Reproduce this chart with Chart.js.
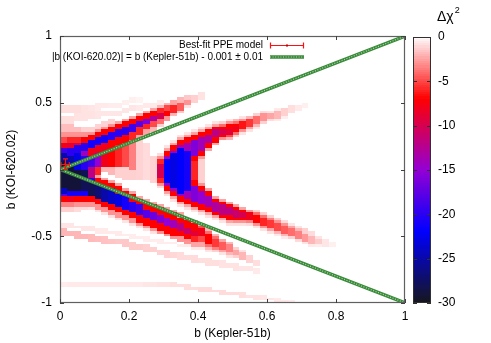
<!DOCTYPE html>
<html><head><meta charset="utf-8">
<script src="https://cdn.jsdelivr.net/npm/chart.js@4.4.0/dist/chart.umd.min.js"></script>
<style>
html,body{margin:0;padding:0;background:#fff;}
#wrap{position:relative;width:491px;height:343px;}
canvas{position:absolute;left:0;top:0;}
</style></head><body>
<div id="wrap"><canvas id="main" width="491" height="343"></canvas><canvas id="cbar" width="491" height="343"></canvas></div>
<script>
// ---- tick labels ----
const X_TICKS = [0, 0.2, 0.4, 0.6, 0.8, 1];
const X_TICK_LABELS = ['0', '0.2', '0.4', '0.6', '0.8', '1'];
const Y_TICKS = [-1, -0.5, 0, 0.5, 1];
const Y_TICK_LABELS = ['-1', '-0.5', '0', '0.5', '1'];
const CB_TICKS = [0, -5, -10, -15, -20, -25, -30];
const CB_TICK_LABELS = ['0', '-5', '-10', '-15', '-20', '-25', '-30'];

// ---- Δχ² map: columns of width 0.02 in b(Kepler-51b); bands [top, bottom] in units of 0.01 of b(KOI-620.02), value Δχ² ----
const CELL_W = 0.02, CELL_H = 0.02;
const COLUMN_X = [0,0.02,0.04,0.06,0.08,0.10,0.12,0.14,0.16,0.18,0.20,0.22,0.24,0.26,0.28,0.30,0.32,0.34,0.36,0.38,
                  0.40,0.42,0.44,0.46,0.48,0.50,0.52,0.54,0.56,0.58,0.60,0.62,0.64,0.66,0.68,0.70,0.72,0.74,0.76,0.78];
const COLUMN_BANDS = [
 [[48,42,-0.9],[40,34,-0.9],[34,28,-1.8],[28,24,-3],[24,20,-5],[20,16,-8],[16,12,-19],[12,6,-25],[6,-14,-29],[-14,-18,-24],[-18,-20,-18],[-20,-24,-7],[-24,-28,-3.5],[-28,-32,-1.3],[-40,-44,-0.7],[-44,-50,-2],[-84,-88,-0.5]],
 [[48,42,-0.9],[40,34,-0.9],[34,28,-1.8],[28,24,-3],[24,20,-6],[20,16,-9],[16,10,-20],[10,2,-25],[2,-16,-29],[-16,-20,-21],[-20,-24,-8],[-24,-28,-3.5],[-28,-32,-1.3],[-40,-44,-0.7],[-46,-50,-2],[-84,-88,-0.6]],
 [[48,42,-0.9],[42,36,-0.8],[32,28,-1.8],[28,24,-3],[24,20,-6],[20,18,-9],[18,12,-20],[12,0,-23],[0,-16,-29],[-16,-20,-21],[-20,-24,-7],[-24,-28,-3],[-28,-32,-1],[-42,-44,-0.7],[-46,-52,-2],[-84,-88,-0.6]],
 [[48,42,-0.8],[42,36,-0.8],[32,28,-1.3],[28,24,-3],[24,20,-7],[20,14,-20],[14,10,-14],[10,0,-20],[0,-16,-28],[-16,-20,-21],[-20,-24,-7],[-24,-28,-3],[-28,-30,-1],[-42,-46,-0.7],[-48,-52,-2],[-84,-88,-0.6]],
 [[48,44,-0.7],[44,38,-0.8],[32,28,-1.3],[28,26,-3],[26,22,-7],[22,16,-21],[16,10,-8],[10,2,-19],[2,-6,-12],[-6,-8,-20],[-8,-20,-28],[-20,-24,-7],[-24,-28,-3],[-28,-30,-0.8],[-42,-46,-0.7],[-48,-54,-1.9],[-84,-88,-0.6]],
 [[50,44,-0.6],[44,38,-0.7],[34,30,-1.2],[30,28,-3],[28,24,-7],[24,18,-21],[18,12,-8],[12,2,-15],[2,-4,-6],[-4,-6,-2.5],[-6,-10,-7],[-10,-22,-27],[-22,-26,-7],[-26,-30,-3],[-30,-32,-0.8],[-44,-48,-0.6],[-50,-54,-1.8],[-84,-88,-0.6]],
 [[50,46,-0.6],[44,40,-0.7],[36,32,-1.2],[32,30,-3],[30,26,-7],[26,20,-21],[20,14,-8],[14,2,-8],[2,-2,-2],[-6,-8,-2.5],[-8,-12,-7],[-12,-24,-25],[-24,-28,-7],[-28,-32,-3],[-32,-34,-0.8],[-44,-48,-0.6],[-50,-56,-1.7],[-84,-88,-0.6]],
 [[50,46,-0.5],[44,40,-0.7],[38,34,-1.2],[34,32,-3],[32,28,-7],[28,22,-20],[22,16,-7],[16,2,-7],[2,-4,-2],[-8,-10,-2.5],[-10,-14,-7],[-14,-26,-24],[-26,-30,-7],[-30,-34,-3],[-34,-36,-0.8],[-46,-48,-0.6],[-52,-56,-1.6],[-84,-88,-0.6]],
 [[50,46,-0.5],[44,40,-0.7],[36,34,-2.5],[34,30,-7],[30,24,-20],[24,18,-7],[18,2,-6],[2,-6,-1.3],[-10,-12,-2.5],[-12,-18,-7],[-18,-28,-23],[-28,-32,-7],[-32,-36,-3],[-36,-38,-0.8],[-46,-50,-0.6],[-52,-56,-1.5],[-84,-88,-0.6]],
 [[52,48,-0.4],[46,42,-0.7],[38,36,-2.5],[36,32,-7],[32,26,-20],[26,20,-7],[20,2,-5],[2,-8,-1.3],[-14,-16,-2.5],[-16,-20,-7],[-20,-30,-21],[-30,-34,-7],[-34,-38,-3],[-38,-40,-0.8],[-48,-50,-0.5],[-52,-58,-1.5],[-84,-88,-0.6]],
 [[54,50,-0.4],[48,44,-0.7],[40,38,-2.5],[38,34,-7],[34,28,-19],[28,22,-6],[22,0,-3.5],[0,-8,-1.3],[-16,-18,-2.5],[-18,-24,-7],[-24,-32,-20],[-32,-36,-7],[-36,-40,-3],[-40,-42,-0.8],[-48,-52,-0.5],[-54,-60,-1.4],[-84,-88,-0.6]],
 [[54,50,-0.3],[48,44,-0.6],[42,40,-2.5],[40,36,-7],[36,32,-18],[32,26,-6],[26,22,-2.5],[22,-8,-1.2],[-20,-22,-2.5],[-22,-26,-7],[-26,-34,-19],[-34,-40,-7],[-40,-42,-3],[-42,-44,-0.8],[-50,-52,-0.5],[-56,-60,-1.4],[-84,-88,-0.6]],
 [[50,46,-0.6],[44,42,-2.5],[42,38,-7],[38,34,-16],[34,30,-6],[30,26,-2.5],[20,-8,-1],[-22,-24,-2.5],[-24,-30,-7],[-30,-36,-18],[-36,-42,-7],[-42,-44,-3],[-44,-46,-0.8],[-50,-54,-0.5],[-56,-62,-1.3],[-84,-88,-0.7]],
 [[50,46,-0.6],[46,44,-2.5],[44,40,-7],[40,36,-13],[36,32,-5],[32,28,-2],[10,-10,-1.2],[-24,-26,-2.5],[-26,-32,-7],[-32,-38,-17],[-38,-44,-7],[-44,-46,-3],[-46,-48,-0.8],[-52,-54,-0.5],[-58,-62,-1.3],[-84,-88,-0.7]],
 [[52,48,-0.5],[48,46,-2],[46,42,-6],[42,38,-10],[38,34,-4],[34,32,-1.3],[12,10,-1],[10,8,-3],[8,4,-6],[4,-6,-10],[-6,-10,-6],[-10,-12,-3],[-12,-14,-1],[-26,-28,-2.5],[-28,-34,-7],[-34,-40,-16],[-40,-46,-7],[-46,-48,-3],[-52,-56,-0.5],[-60,-64,-1.2],[-84,-88,-0.8]],
 [[50,48,-2],[48,44,-5],[44,40,-7],[40,36,-3],[18,16,-0.8],[16,14,-2.5],[14,10,-7],[10,8,-14],[8,-10,-22],[-10,-12,-14],[-12,-16,-7],[-16,-18,-2.5],[-18,-20,-0.8],[-28,-30,-2.5],[-30,-36,-7],[-36,-42,-15],[-42,-48,-7],[-48,-50,-3],[-54,-56,-0.5],[-60,-66,-1.2],[-84,-88,-0.8]],
 [[52,48,-2.5],[48,42,-6],[42,40,-2],[22,20,-0.8],[20,18,-2.5],[18,14,-7],[14,12,-15],[12,-14,-23],[-14,-16,-15],[-16,-20,-7],[-20,-22,-2.5],[-22,-24,-0.8],[-30,-32,-2.5],[-32,-38,-7],[-38,-44,-14],[-44,-50,-7],[-50,-52,-3],[-54,-56,-0.5],[-62,-66,-1.1],[-84,-88,-0.9]],
 [[54,50,-2],[50,44,-4.5],[44,42,-1.5],[26,24,-0.8],[24,22,-2.5],[22,18,-7],[18,16,-14],[16,-18,-22],[-18,-20,-14],[-20,-24,-7],[-24,-26,-2.5],[-26,-28,-0.8],[-32,-36,-2.5],[-36,-40,-7],[-40,-46,-12],[-46,-50,-7],[-50,-54,-3],[-56,-58,-0.5],[-62,-68,-1],[-86,-88,-0.9]],
 [[56,52,-1.5],[52,48,-3],[48,46,-0.8],[28,26,-0.8],[26,24,-2.5],[24,20,-7],[20,14,-14],[14,-16,-21],[-16,-22,-14],[-22,-26,-7],[-26,-28,-2.5],[-28,-30,-0.8],[-36,-38,-2.5],[-38,-44,-7],[-44,-48,-11],[-48,-52,-7],[-52,-56,-3],[-56,-58,-0.6],[-64,-68,-1],[-86,-90,-0.9]],
 [[56,50,-1.3],[30,28,-0.8],[28,26,-2.5],[26,22,-7],[22,10,-16],[10,6,-7],[6,-8,-6],[-8,-12,-7],[-12,-24,-16],[-24,-28,-7],[-28,-30,-2.5],[-30,-32,-0.8],[-38,-40,-2.5],[-40,-46,-7],[-46,-50,-9],[-50,-54,-6],[-54,-58,-2.5],[-58,-60,-0.6],[-64,-70,-1],[-88,-90,-0.9]],
 [[58,52,-0.8],[32,30,-0.8],[30,28,-2.5],[28,24,-7],[24,14,-14],[14,10,-7],[10,8,-3],[8,-10,-1.3],[-10,-12,-3],[-12,-16,-7],[-16,-26,-15],[-26,-30,-7],[-30,-32,-2.5],[-32,-34,-0.8],[-40,-42,-2],[-42,-44,-5],[-44,-50,-8],[-50,-54,-5],[-54,-58,-2.5],[-58,-60,-0.6],[-66,-70,-0.9],[-88,-92,-1]],
 [[34,32,-0.8],[32,30,-2.5],[30,26,-7],[26,20,-13],[20,16,-7],[16,14,-2.5],[-14,-16,-2.5],[-16,-20,-7],[-20,-28,-14],[-28,-32,-7],[-32,-34,-2.5],[-34,-36,-0.8],[-44,-46,-2],[-46,-48,-4],[-48,-56,-7],[-56,-58,-4],[-58,-60,-2],[-60,-62,-0.7],[-66,-72,-0.9],[-88,-92,-1]],
 [[36,34,-0.8],[34,32,-2.5],[32,30,-7],[30,24,-12],[24,20,-7],[20,18,-2.5],[-20,-22,-2.5],[-22,-24,-7],[-24,-32,-13],[-32,-34,-7],[-34,-36,-2.5],[-36,-38,-0.8],[-48,-50,-2],[-50,-52,-4],[-52,-58,-5.5],[-58,-60,-3.5],[-60,-62,-1.3],[-68,-72,-0.9],[-90,-92,-1]],
 [[36,34,-1.3],[34,32,-4],[32,30,-7],[30,26,-10],[26,24,-7],[24,22,-3],[-22,-24,-2.5],[-24,-26,-7],[-26,-34,-12],[-34,-36,-7],[-36,-38,-2.5],[-38,-40,-0.8],[-52,-54,-2.5],[-54,-60,-4.5],[-60,-62,-2.5],[-62,-64,-0.8],[-68,-74,-0.8],[-90,-94,-1]],
 [[38,36,-0.8],[36,34,-3],[34,30,-7],[30,26,-9],[26,24,-5],[24,22,-2],[-24,-26,-2.5],[-26,-28,-7],[-28,-34,-12],[-34,-38,-7],[-38,-40,-2.5],[-40,-42,-0.8],[-54,-56,-2],[-56,-62,-3.5],[-62,-64,-2],[-64,-66,-0.8],[-70,-74,-0.8],[-92,-94,-1]],
 [[38,36,-2],[36,34,-4],[34,28,-7],[32,30,-9],[28,26,-4],[26,24,-1.3],[-26,-28,-2.5],[-28,-30,-7],[-30,-36,-11],[-36,-38,-7],[-38,-40,-3],[-40,-42,-0.8],[-58,-60,-1.3],[-60,-64,-2.5],[-64,-66,-1.3],[-70,-76,-0.8],[-92,-94,-1]],
 [[40,38,-0.8],[38,36,-3],[36,30,-6.5],[30,28,-3],[28,26,-0.8],[-28,-30,-2.5],[-30,-32,-7],[-32,-36,-10],[-36,-38,-7],[-38,-40,-3],[-40,-42,-0.8],[-60,-62,-0.8],[-62,-68,-2],[-72,-76,-0.7],[-92,-96,-0.9]],
 [[40,38,-2],[38,32,-5.5],[32,30,-2.5],[30,28,-0.8],[-30,-32,-3],[-32,-38,-8],[-38,-40,-3.5],[-40,-42,-1],[-64,-70,-1.2],[-72,-76,-0.7],[-94,-96,-0.8]],
 [[42,40,-1.3],[40,34,-4],[34,32,-2],[32,30,-0.6],[-30,-32,-1.3],[-32,-34,-4],[-34,-40,-7],[-40,-42,-3],[-42,-44,-0.8],[-68,-72,-0.9],[-74,-78,-0.6],[-94,-98,-0.8]],
 [[44,42,-1],[42,36,-3],[36,34,-1.3],[-32,-34,-1.3],[-34,-36,-4],[-36,-42,-6],[-42,-44,-3],[-44,-46,-0.8],[-94,-98,-0.7]],
 [[44,42,-0.8],[42,38,-2.5],[38,36,-1],[-34,-36,-1.3],[-36,-38,-3.5],[-38,-44,-5.5],[-44,-46,-2.5],[-46,-48,-0.8],[-96,-98,-0.7]],
 [[46,44,-0.6],[44,38,-2],[38,36,-0.6],[-36,-38,-1.3],[-38,-40,-3],[-40,-46,-5],[-46,-48,-2],[-48,-50,-0.6],[-96,-100,-0.6]],
 [[46,40,-1.3],[40,38,-0.5],[-38,-40,-1],[-40,-42,-3],[-42,-48,-4.5],[-48,-50,-2],[-50,-52,-0.6],[-98,-100,-0.6]],
 [[48,42,-0.9],[-40,-42,-0.8],[-42,-44,-2.5],[-44,-50,-4],[-50,-52,-1.3],[-98,-100,-0.5]],
 [[48,44,-0.6],[-42,-44,-0.8],[-44,-46,-2],[-46,-52,-3.5],[-52,-54,-1]],
 [[50,46,-0.4],[-44,-48,-1.3],[-48,-54,-2.8],[-54,-56,-0.8]],
 [[-46,-50,-1],[-50,-56,-2],[-56,-58,-0.6]],
 [[-50,-52,-0.8],[-52,-56,-1.4],[-56,-58,-0.5]],
 [[-52,-58,-0.7]],
 [[-54,-58,-0.4]]
];

// ---- best-fit point with error bars ----
const BESTFIT_X = [0.015], BESTFIT_Y = [0.04], BESTFIT_XERR = [0.012], BESTFIT_YERR = [0.04];
// ---- relation |b(KOI-620.02)| = b(Kepler-51b) - 0.001 ----
const RELATION_X = [0.001, 1];
const RELATION_UPPER = [0, 0.999];
const RELATION_LOWER = [0, -0.999];
const LABEL_BESTFIT = 'Best-fit PPE model';
const LABEL_RELATION = '|b (KOI-620.02)| = b (Kepler-51b) - 0.001 \u00b1 0.01';

// palette (style)
const PAL_V = [0, -7, -15, -22, -30];
const PAL_C = [[255,255,255],[255,0,0],[148,0,211],[0,0,255],[22,22,30]];
function chiColor(v){
  if (v >= 0) return 'rgb(255,255,255)';
  for (let i = 0; i < PAL_V.length - 1; i++){
    const a = PAL_V[i], b = PAL_V[i+1];
    if (v <= a && v >= b){
      const t = (a - v) / (a - b), c0 = PAL_C[i], c1 = PAL_C[i+1];
      return 'rgb(' + [0,1,2].map(k => Math.round(c0[k] + (c1[k]-c0[k])*t)).join(',') + ')';
    }
  }
  const c = PAL_C[PAL_C.length-1]; return 'rgb(' + c.join(',') + ')';
}

const FONT = "'Liberation Sans', Arial, sans-serif";
const ROWS = Math.round(2 / CELL_H);
const GREEN = '#3a8a3a', GREEN_LIGHT = 'rgba(185,228,185,0.9)';

const heatmapPlugin = {
  id: 'heatmap',
  beforeDatasetsDraw(chart){
    const {ctx, chartArea: a, scales: {x, y}} = chart;
    ctx.save();
    ctx.beginPath(); ctx.rect(a.left, a.top, a.right - a.left, a.bottom - a.top); ctx.clip();
    COLUMN_X.forEach((xl, i) => {
      const bands = COLUMN_BANDS[i];
      const x0 = Math.round(x.getPixelForValue(xl)), x1 = Math.round(x.getPixelForValue(xl + CELL_W));
      for (let j = 0; j < ROWS; j++){
        const ycH = 99 - 2 * j;
        let v = 0;
        for (const [t, b, val] of bands) if (ycH < t && ycH > b && val < v) v = val;
        if (v < 0){
          const yc = ycH / 100;
          const y0 = Math.round(y.getPixelForValue(yc + CELL_H / 2)), y1 = Math.round(y.getPixelForValue(yc - CELL_H / 2));
          ctx.fillStyle = chiColor(v);
          ctx.fillRect(x0, y0, x1 - x0, y1 - y0);
        }
      }
    });
    ctx.restore();
  }
};

const framePlugin = {
  id: 'frame',
  afterDatasetsDraw(chart){
    const {ctx, chartArea: a, scales: {x, y}} = chart;
    ctx.save();
    // error bars
    ctx.strokeStyle = '#ff1010'; ctx.lineWidth = 1.2;
    BESTFIT_X.forEach((bx, i) => {
      const px = Math.round(x.getPixelForValue(bx)) + 0.5, py = Math.round(y.getPixelForValue(BESTFIT_Y[i])) + 0.5;
      const xl = x.getPixelForValue(bx - BESTFIT_XERR[i]), xr = x.getPixelForValue(bx + BESTFIT_XERR[i]);
      const yt = y.getPixelForValue(BESTFIT_Y[i] + BESTFIT_YERR[i]), yb = y.getPixelForValue(BESTFIT_Y[i] - BESTFIT_YERR[i]);
      ctx.beginPath();
      ctx.moveTo(xl, py); ctx.lineTo(xr, py);
      ctx.moveTo(xl, py - 2.5); ctx.lineTo(xl, py + 2.5);
      ctx.moveTo(xr, py - 2.5); ctx.lineTo(xr, py + 2.5);
      ctx.moveTo(px, yt); ctx.lineTo(px, yb);
      ctx.moveTo(px - 2.5, yt); ctx.lineTo(px + 2.5, yt);
      ctx.moveTo(px - 2.5, yb); ctx.lineTo(px + 2.5, yb);
      ctx.stroke();
    });
    // border
    ctx.strokeStyle = '#606060'; ctx.lineWidth = 1.2;
    ctx.strokeRect(a.left + 0.5, a.top + 0.5, a.right - a.left - 1, a.bottom - a.top - 1);
    ctx.lineWidth = 1; ctx.strokeStyle = '#404040';
    ctx.beginPath();
    X_TICKS.forEach(v => { const p = Math.round(x.getPixelForValue(v)) + 0.5;
      ctx.moveTo(p, a.bottom); ctx.lineTo(p, a.bottom - 4); ctx.moveTo(p, a.top); ctx.lineTo(p, a.top + 4); });
    Y_TICKS.forEach(v => { const p = Math.round(y.getPixelForValue(v)) + 0.5;
      ctx.moveTo(a.left, p); ctx.lineTo(a.left + 4, p); ctx.moveTo(a.right, p); ctx.lineTo(a.right - 4, p); });
    ctx.stroke();
    ctx.restore();
  },
  afterDraw(chart){
    const ctx = chart.ctx;
    ctx.save();
    ctx.font = '10px ' + FONT; ctx.fillStyle = '#000'; ctx.textAlign = 'right'; ctx.textBaseline = 'middle';
    const tx = 263, sx0 = 270, sx1 = 304, y1 = 45, y2 = 57;
    ctx.fillText(LABEL_BESTFIT, tx, y1);
    ctx.fillText(LABEL_RELATION, tx, y2);
    ctx.strokeStyle = '#ff1010'; ctx.lineWidth = 1.2;
    ctx.beginPath();
    ctx.moveTo(sx0, y1 + 0.5); ctx.lineTo(sx1, y1 + 0.5);
    ctx.moveTo(sx0 + 0.5, y1 - 2.5); ctx.lineTo(sx0 + 0.5, y1 + 3.5);
    ctx.moveTo(sx1 - 0.5, y1 - 2.5); ctx.lineTo(sx1 - 0.5, y1 + 3.5);
    ctx.stroke();
    ctx.fillStyle = '#c00000'; ctx.fillRect(286, y1 - 0.5, 2, 2);
    ctx.lineCap = 'butt';
    ctx.strokeStyle = GREEN; ctx.lineWidth = 3.5;
    ctx.beginPath(); ctx.moveTo(sx0, y2); ctx.lineTo(sx1, y2); ctx.stroke();
    ctx.strokeStyle = GREEN_LIGHT; ctx.lineWidth = 1.2; ctx.setLineDash([1, 1.6]);
    ctx.beginPath(); ctx.moveTo(sx0, y2); ctx.lineTo(sx1, y2); ctx.stroke();
    ctx.restore();
  }
};

function pts(xs, ys){ return xs.map((v, i) => ({x: v, y: ys[i]})); }

const tickFont = {family: FONT, size: 12};
new Chart(document.getElementById('main'), {
  type: 'scatter',
  data: {datasets: [
    {label: LABEL_BESTFIT, data: pts(BESTFIT_X, BESTFIT_Y), pointRadius: 1.3, pointBackgroundColor: '#c00000', pointBorderWidth: 0, order: 1},
    {label: LABEL_RELATION, data: pts(RELATION_X, RELATION_UPPER), showLine: true, borderColor: GREEN, borderWidth: 3.5, pointRadius: 0, order: 3},
    {label: '', data: pts(RELATION_X, RELATION_LOWER), showLine: true, borderColor: GREEN, borderWidth: 3.5, pointRadius: 0, order: 3},
    {label: '', data: pts(RELATION_X, RELATION_UPPER), showLine: true, borderColor: GREEN_LIGHT, borderWidth: 1.2, borderDash: [1, 1.6], pointRadius: 0, order: 2},
    {label: '', data: pts(RELATION_X, RELATION_LOWER), showLine: true, borderColor: GREEN_LIGHT, borderWidth: 1.2, borderDash: [1, 1.6], pointRadius: 0, order: 2}
  ]},
  options: {
    responsive: false, animation: false, devicePixelRatio: 1,
    layout: {padding: {left: 0, right: 86, top: 36, bottom: 0}},
    plugins: {legend: {display: false}, tooltip: {enabled: false}},
    scales: {
      x: {type: 'linear', min: 0, max: 1,
        afterBuildTicks: s => { s.ticks = X_TICKS.map(v => ({value: v})); },
        afterFit: s => { s.height = 40; },
        ticks: {font: tickFont, color: '#000', padding: 6, maxRotation: 0, autoSkip: false,
          callback: v => X_TICK_LABELS[X_TICKS.indexOf(v)]},
        grid: {display: false, drawTicks: false}, border: {display: false},
        title: {display: true, text: 'b (Kepler-51b)', font: tickFont, color: '#000', padding: {top: 0, bottom: 2}}},
      y: {type: 'linear', min: -1, max: 1,
        afterBuildTicks: s => { s.ticks = Y_TICKS.map(v => ({value: v})); },
        afterFit: s => { s.width = 60; },
        ticks: {font: tickFont, color: '#000', padding: 8, autoSkip: false,
          callback: v => Y_TICK_LABELS[Y_TICKS.indexOf(v)]},
        grid: {display: false, drawTicks: false}, border: {display: false},
        title: {display: true, text: 'b (KOI-620.02)', font: tickFont, color: '#000', padding: {top: 4, bottom: 0}}}
    }
  },
  plugins: [heatmapPlugin, framePlugin]
});

// ---- colour box ----
const cbPlugin = {
  id: 'cbox',
  beforeDatasetsDraw(chart){
    const {ctx, chartArea: a, scales: {y}} = chart;
    ctx.save();
    const step = 0.25;
    for (let v = 0; v > -30; v -= step){
      const y0 = y.getPixelForValue(v), y1 = y.getPixelForValue(v - step);
      ctx.fillStyle = chiColor(v - step / 2);
      ctx.fillRect(a.left, Math.floor(y0), a.right - a.left, Math.ceil(y1) - Math.floor(y0));
    }
    ctx.strokeStyle = '#303030'; ctx.lineWidth = 1;
    ctx.strokeRect(a.left + 0.5, a.top + 0.5, a.right - a.left - 1, a.bottom - a.top - 1);
    ctx.beginPath();
    CB_TICKS.forEach(v => { const p = Math.round(y.getPixelForValue(v)) + 0.5;
      ctx.moveTo(a.left, p); ctx.lineTo(a.left + 4, p); ctx.moveTo(a.right, p); ctx.lineTo(a.right - 4, p); });
    ctx.stroke();
    ctx.fillStyle = '#000'; ctx.textAlign = 'left'; ctx.textBaseline = 'alphabetic';
    ctx.font = '14px ' + FONT;
    const t = '\u0394\u03c7';
    ctx.fillText(t, 437, 21);
    const w = ctx.measureText(t).width;
    ctx.font = '9px ' + FONT; ctx.fillText('2', 437 + w + 1, 13);
    ctx.restore();
  }
};
new Chart(document.getElementById('cbar'), {
  type: 'scatter',
  data: {datasets: [{label: 'Δχ²', data: [], pointRadius: 0}]},
  options: {
    responsive: false, animation: false, devicePixelRatio: 1,
    layout: {padding: {left: 413, right: 0, top: 37, bottom: 40}},
    plugins: {legend: {display: false}, tooltip: {enabled: false}},
    scales: {
      x: {display: false, min: 0, max: 1},
      y: {position: 'right', min: -30, max: 0,
        afterBuildTicks: s => { s.ticks = CB_TICKS.map(v => ({value: v})); },
        afterFit: s => { s.width = 60; },
        ticks: {font: tickFont, color: '#000', padding: 7, autoSkip: false,
          callback: v => CB_TICK_LABELS[CB_TICKS.indexOf(v)]},
        grid: {display: false, drawTicks: false}, border: {display: false}}
    }
  },
  plugins: [cbPlugin]
});
</script>
</body></html>
